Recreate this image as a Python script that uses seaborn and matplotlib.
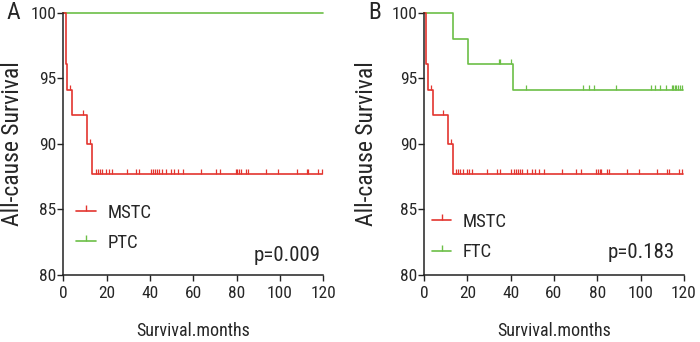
import numpy as np
import matplotlib
matplotlib.use("Agg")
import matplotlib.pyplot as plt
from matplotlib.lines import Line2D
import seaborn as sns

# step curves (time in months, survival in %)
mstc_time = [0, 1.1, 1.85, 4.1, 11.1, 13.4, 119.5]
mstc_surv = [100, 96.1, 94.1, 92.2, 90.0, 87.7, 87.7]
mstc_censor = [3.1, 8.9, 12.3, 15.0, 15.9, 16.8, 17.8, 19.7, 20.9, 22.3, 29.2,
               33.5, 34.9, 40.3, 41.4, 42.3, 43.2, 44.1, 45.4, 47.4, 49.7, 51.2,
               53.1, 55.4, 63.6, 70.3, 72.3, 79.6, 80.3, 81.1, 81.8, 84.3, 85.4,
               93.6, 99.2, 107.7, 112.3, 113.1, 117.7, 119.3]

ptc_time = [0, 120]
ptc_surv = [100, 100]

ftc_time = [0, 13.2, 20.2, 41.2, 119.6]
ftc_surv = [100, 98.0, 96.1, 94.1, 94.1]
ftc_censor = [34.6, 35.2, 40.2, 47.1, 73.2, 76.3, 78.5, 88.4, 104.6, 106.6,
              108.9, 111.7, 114.3, 115.0, 115.7, 116.5, 117.2, 118.0, 118.9]

x_ticks = [0, 20, 40, 60, 80, 100, 120]
y_ticks = [80, 85, 90, 95, 100]

RED = "#e3352f"
GREEN = "#6cbf47"

sns.set_style("ticks")
plt.rcParams['font.family'] = ['Liberation Sans Narrow', 'Roboto Condensed',
                               'DejaVu Sans']
plt.rcParams['font.stretch'] = 'condensed'


def surv_at(times, surv, t):
    i = np.searchsorted(times, t, side="right") - 1
    return np.asarray(surv)[i]


def draw_km(ax, times, surv, censor, color):
    sns.lineplot(x=times, y=surv, drawstyle="steps-post", color=color,
                 linewidth=1.2, ax=ax, clip_on=False)
    if censor:
        ys = surv_at(times, surv, censor)
        sns.scatterplot(x=censor, y=ys, marker=2, s=14, color=color,
                        linewidth=0.9, ax=ax, clip_on=False)


fig = plt.figure(figsize=(7, 3.42), dpi=100)
axA = fig.add_axes([0.0905, 0.196, 0.3714, 0.766])
axB = fig.add_axes([0.6057, 0.196, 0.3714, 0.766])

draw_km(axA, ptc_time, ptc_surv, [], GREEN)
draw_km(axA, mstc_time, mstc_surv, mstc_censor, RED)
draw_km(axB, ftc_time, ftc_surv, ftc_censor, GREEN)
draw_km(axB, mstc_time, mstc_surv, mstc_censor, RED)

panels = [(axA, "PTC", "p=0.009", (0.05, 0.18), (0.99, 0.073), -0.15),
          (axB, "FTC", "p=0.183", (0.03, 0.145), (0.965, 0.084), -0.175)]
for ax, other, ptxt, leg_xy, p_xy, ylab_x in panels:
    ax.set_xlim(0, 120)
    ax.set_ylim(80, 100)
    ax.set_xticks(x_ticks)
    ax.set_yticks(y_ticks)
    ax.tick_params(labelsize=12.5, length=4, width=1, color="#222222")
    ax.tick_params(axis="x", pad=4)
    ax.tick_params(axis="y", pad=1)
    for s in ["left", "bottom"]:
        ax.spines[s].set_linewidth(1.1)
        ax.spines[s].set_color("#222222")
    sns.despine(ax=ax)
    ax.set_xlabel("Survival.months", fontsize=13)
    ax.set_ylabel("All-cause Survival", fontsize=17)
    ax.xaxis.set_label_coords(0.5, -0.18)
    ax.yaxis.set_label_coords(ylab_x, 0.5)
    handles = [Line2D([], [], color=RED, lw=1.2, marker=2, markersize=4),
               Line2D([], [], color=GREEN, lw=1.2, marker=2, markersize=4)]
    ax.legend(handles, ["MSTC", other], loc="center left", bbox_to_anchor=leg_xy,
              frameon=False, fontsize=13.5, handlelength=1.05, handletextpad=0.6,
              labelspacing=0.65, borderpad=0, borderaxespad=0)
    ax.text(p_xy[0], p_xy[1], ptxt, transform=ax.transAxes, ha="right",
            va="center", fontsize=15)

fig.text(0.019, 0.962, "A", fontsize=17, va="center", ha="center")
fig.text(0.535, 0.962, "B", fontsize=17, va="center", ha="center")

plt.savefig("out.png", dpi=100)
